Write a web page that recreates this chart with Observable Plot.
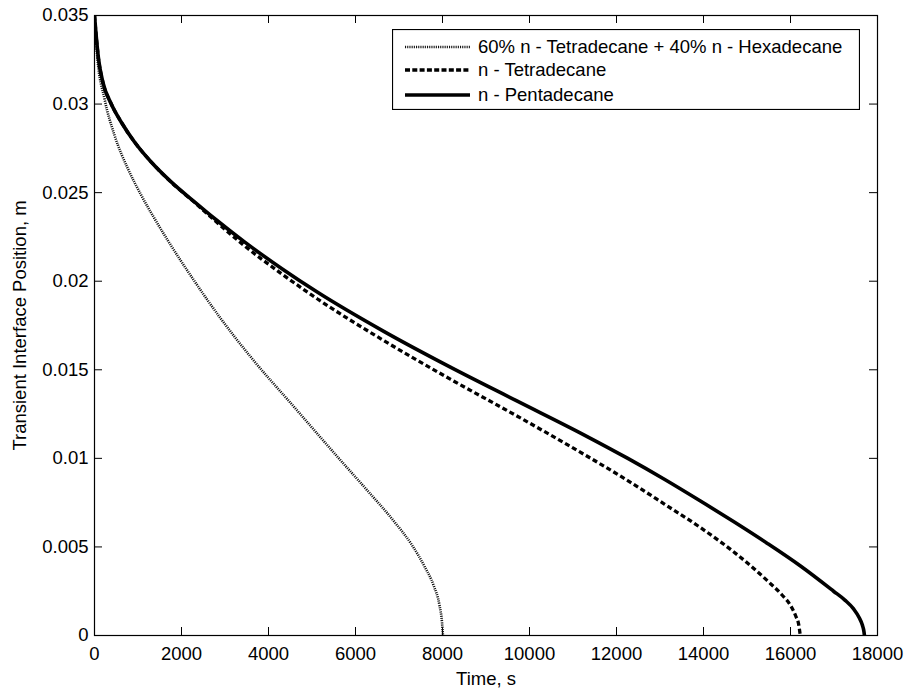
<!DOCTYPE html>
<html>
<head>
<meta charset="utf-8">
<script src="https://cdn.jsdelivr.net/npm/d3@7"></script>
<script src="https://cdn.jsdelivr.net/npm/@observablehq/plot@0.6"></script>
<style>
  body { margin: 0; background: #fff; }
  #wrap { position: relative; width: 904px; height: 689px; font-family: "Liberation Sans", Arial, Helvetica, sans-serif; }
  #legend { position: absolute; left: 392px; top: 29px; }
</style>
</head>
<body>
<div id="wrap"></div>
<script>
// ---- data ----
const seriesNames = [
  "60% n - Tetradecane + 40% n - Hexadecane",
  "n - Tetradecane",
  "n - Pentadecane"
];

// 60% n-Tetradecane + 40% n-Hexadecane
const mixTime = [0, 61, 230, 460, 766, 1073, 1379, 1686, 2299, 2900, 3586, 4582, 5617, 6250, 6900, 7300, 7586, 7800, 7931, 7990, 8010];
const mixPos  = [0.035, 0.03275, 0.0303, 0.02824, 0.02636, 0.02486, 0.02354, 0.0223, 0.0200, 0.0179, 0.01574, 0.01292, 0.0100, 0.00825, 0.0064, 0.0051, 0.0039, 0.0028, 0.0017, 0.0007, 0];

// n-Tetradecane
const tetTime = [0, 38, 92, 192, 383, 613, 920, 1303, 1762, 2299, 2759, 3448, 4300, 5120, 6650, 8180, 9720, 11250, 12250, 13100, 13930, 14690, 15460, 15800, 16000, 16120, 16190, 16225];
const tetPos  = [0.035, 0.03387, 0.03256, 0.03124, 0.03002, 0.02899, 0.02786, 0.02673, 0.02559, 0.02445, 0.02344, 0.0220, 0.02042, 0.01901, 0.01665, 0.01447, 0.01238, 0.01023, 0.00876, 0.00742, 0.00609, 0.00473, 0.00311, 0.0023, 0.0017, 0.0011, 0.0006, 0];

// n-Pentadecane
const pentTime = [0, 38, 92, 192, 383, 613, 920, 1303, 1762, 2299, 2759, 3448, 4300, 5120, 6650, 8180, 9720, 11250, 12250, 13100, 13930, 14690, 15460, 16230, 16990, 17250, 17450, 17580, 17650, 17690, 17700];
const pentPos  = [0.035, 0.03387, 0.03256, 0.03124, 0.03002, 0.02899, 0.02786, 0.02673, 0.02561, 0.02448, 0.02354, 0.02222, 0.02072, 0.01939, 0.01717, 0.01515, 0.01323, 0.01133, 0.01001, 0.00882, 0.00759, 0.00643, 0.00521, 0.00392, 0.0025, 0.0020, 0.0015, 0.0010, 0.0006, 0.0002, 0];

const xTicks = [0, 2000, 4000, 6000, 8000, 10000, 12000, 14000, 16000, 18000];
const yTicks = [0, 0.005, 0.01, 0.015, 0.02, 0.025, 0.03, 0.035];
const xTitle = "Time, s";
const yTitle = "Transient Interface Position, m";

// ---- build ----
const rows = (ts, vs) => ts.map((t, i) => ({t, v: vs[i]}));
const mix = rows(mixTime, mixPos);
const tet = rows(tetTime, tetPos);
const pent = rows(pentTime, pentPos);

const W = 904, H = 689;
const mL = 94, mR = 27, mT = 15, mB = 54;
const innerH = H - mT - mB, innerW = W - mL - mR;
const tickLen = 8;
const FONT = "18.5px";

const chart = Plot.plot({
  width: W,
  height: H,
  marginLeft: mL,
  marginRight: mR,
  marginTop: mT,
  marginBottom: mB,
  style: { fontFamily: '"Liberation Sans", Arial, Helvetica, sans-serif', fontSize: FONT, color: "#000", background: "#fff" },
  x: { domain: [0, 18000] },
  y: { domain: [0, 0.035] },
  marks: [
    // inward ticks on all four sides
    Plot.ruleX(xTicks, { x: d => d, insetTop: innerH - tickLen, stroke: "#000" }),
    Plot.ruleX(xTicks, { x: d => d, insetBottom: innerH - tickLen, stroke: "#000" }),
    Plot.ruleY(yTicks, { y: d => d, insetRight: innerW - tickLen, stroke: "#000" }),
    Plot.ruleY(yTicks, { y: d => d, insetLeft: innerW - tickLen, stroke: "#000" }),
    Plot.axisX({
      anchor: "bottom", ticks: xTicks, tickSize: 0, tickPadding: 11,
      tickFormat: d => String(d),
      label: xTitle, labelAnchor: "center", labelOffset: 49, labelArrow: "none"
    }),
    Plot.axisY({
      anchor: "left", ticks: yTicks, tickSize: 0, tickPadding: 6,
      tickFormat: d => String(+d.toFixed(3)),
      label: yTitle, labelAnchor: "center", labelOffset: 82, labelArrow: "none"
    }),
    Plot.line(mix, { x: "t", y: "v", stroke: "#111", strokeWidth: 2.6, strokeDasharray: "1.1 1.1", strokeLinecap: "butt", strokeLinejoin: "miter", curve: "monotone-x", clip: true }),
    Plot.line(tet, { x: "t", y: "v", stroke: "#000", strokeWidth: 3.3, strokeDasharray: "5 3", strokeLinecap: "butt", strokeLinejoin: "miter", curve: "monotone-x", clip: true }),
    Plot.line(pent, { x: "t", y: "v", stroke: "#000", strokeWidth: 3.6, strokeLinecap: "butt", curve: "monotone-x", clip: true }),
    Plot.frame({ stroke: "#000", strokeWidth: 1.2 })
  ]
});

const wrap = document.getElementById("wrap");
wrap.appendChild(chart);

// ---- legend (inside the plot frame, top right) ----
const legW = 468, legH = 81;
const legStyles = [
  { stroke: "#111", width: 2.4, dash: "1.1 1.1" },
  { stroke: "#000", width: 3.3, dash: "5 2.3" },
  { stroke: "#000", width: 3.6, dash: null }
];
const rowY = [18, 41, 66];
const leg = d3.select(wrap).append("svg")
  .attr("id", "legend")
  .attr("width", legW).attr("height", legH)
  .style("font-family", '"Liberation Sans", Arial, Helvetica, sans-serif')
  .style("font-size", FONT);
leg.append("rect").attr("x", 0.5).attr("y", 0.5).attr("width", legW - 1).attr("height", legH - 1)
  .attr("fill", "#fff").attr("stroke", "#000").attr("stroke-width", 1.2);
seriesNames.forEach((name, i) => {
  const s = legStyles[i];
  leg.append("line").attr("x1", 13).attr("x2", 78).attr("y1", rowY[i]).attr("y2", rowY[i])
    .attr("stroke", s.stroke).attr("stroke-width", s.width)
    .attr("stroke-linecap", "butt")
    .attr("stroke-dasharray", s.dash);
  leg.append("text").attr("x", 86).attr("y", rowY[i]).attr("dy", "0.35em")
    .attr("fill", "#000").text(name);
});
</script>
</body>
</html>
